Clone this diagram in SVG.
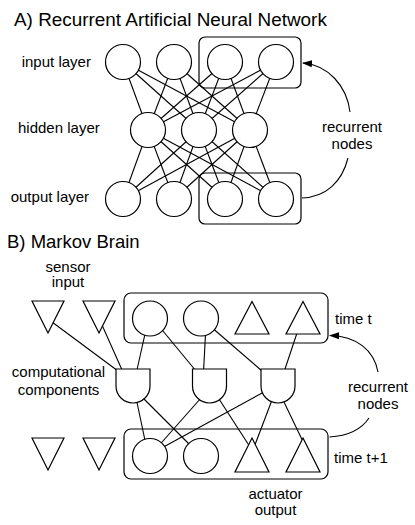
<svg xmlns="http://www.w3.org/2000/svg" width="415" height="525" viewBox="0 0 415 525">
<defs>
<style>
text{font-family:"Liberation Sans",Arial,sans-serif;fill:#000}
.t{font-size:18.5px}
.ta{font-size:18.9px}
.l{font-size:15px}
.m{text-anchor:middle}
.n{fill:#fff;stroke:#000;stroke-width:1.2}
.b{fill:none;stroke:#000;stroke-width:1.2}
#conn line{stroke:#000;stroke-width:1.1}
.cv{fill:none;stroke:#000;stroke-width:1.1}
</style>
<marker id="ah" markerWidth="10" markerHeight="8" refX="9" refY="4" orient="auto" markerUnits="userSpaceOnUse">
<path d="M0,0.5 L10,4 L0,7.5 Z" fill="#000"/>
</marker>
</defs>
<rect width="415" height="525" fill="#fff"/>

<text class="ta" x="14" y="25.5">A) Recurrent Artificial Neural Network</text>
<text class="l" x="21.7" y="67">input layer</text>
<text class="l" x="18" y="133">hidden layer</text>
<text class="l" x="10.7" y="202">output layer</text>
<text class="l m" x="352" y="132">recurrent</text>
<text class="l m" x="352" y="149">nodes</text>

<text class="t" x="7" y="248">B) Markov Brain</text>
<text class="l m" x="68" y="271.5">sensor</text>
<text class="l m" x="68" y="287">input</text>
<text class="l m" x="58.5" y="376.5">computational</text>
<text class="l m" x="58.5" y="395">components</text>
<text class="l" x="335" y="324">time t</text>
<text class="l" x="334" y="463">time t+1</text>
<text class="l m" x="378" y="392">recurrent</text>
<text class="l m" x="378" y="409">nodes</text>
<text class="l m" x="275.5" y="499">actuator</text>
<text class="l m" x="275.5" y="515">output</text>

<g id="conn">
<!-- A: input to hidden -->
<line x1="123" y1="62" x2="148" y2="130"/><line x1="123" y1="62" x2="199" y2="130"/><line x1="123" y1="62" x2="250" y2="130"/>
<line x1="174" y1="62" x2="148" y2="130"/><line x1="174" y1="62" x2="199" y2="130"/><line x1="174" y1="62" x2="250" y2="130"/>
<line x1="225" y1="62" x2="148" y2="130"/><line x1="225" y1="62" x2="199" y2="130"/><line x1="225" y1="62" x2="250" y2="130"/>
<line x1="276" y1="62" x2="148" y2="130"/><line x1="276" y1="62" x2="199" y2="130"/><line x1="276" y1="62" x2="250" y2="130"/>
<!-- A: hidden to output -->
<line x1="148" y1="130" x2="123" y2="199"/><line x1="148" y1="130" x2="174" y2="199"/><line x1="148" y1="130" x2="225" y2="199"/><line x1="148" y1="130" x2="276" y2="199"/>
<line x1="199" y1="130" x2="123" y2="199"/><line x1="199" y1="130" x2="174" y2="199"/><line x1="199" y1="130" x2="225" y2="199"/><line x1="199" y1="130" x2="276" y2="199"/>
<line x1="250" y1="130" x2="123" y2="199"/><line x1="250" y1="130" x2="174" y2="199"/><line x1="250" y1="130" x2="225" y2="199"/><line x1="250" y1="130" x2="276" y2="199"/>
<!-- B: top to gates -->
<line x1="52" y1="322" x2="118" y2="371"/>
<line x1="102" y1="325" x2="122.5" y2="371"/>
<line x1="147" y1="325" x2="136.5" y2="372"/>
<line x1="158" y1="325" x2="196" y2="371"/>
<line x1="206" y1="325" x2="203.5" y2="372"/>
<line x1="210" y1="326" x2="262" y2="371"/>
<line x1="298" y1="330" x2="284" y2="372"/>
<!-- B: gates to bottom -->
<line x1="136.5" y1="400" x2="147" y2="450"/>
<line x1="144" y1="399" x2="195" y2="450"/>
<line x1="201" y1="398" x2="155" y2="450"/>
<line x1="219" y1="399" x2="252" y2="450"/>
<line x1="264" y1="392" x2="158" y2="450"/>
<line x1="272" y1="400" x2="253" y2="450"/>
<line x1="283" y1="400" x2="308" y2="452"/>
<!-- recurrent curves -->
<path class="cv" d="M350,112 C347,86 328,65 303,63" marker-end="url(#ah)"/>
<path class="cv" d="M348,158 C342,182 326,197 302,198"/>
<path class="cv" d="M378,372 C374,350 356,336 330,335.5" marker-end="url(#ah)"/>
<path class="cv" d="M369,418 C361,430 347,436 329.5,437"/>
</g>

<g id="box-input-rec"><rect class="b" x="199" y="37" width="102" height="51" rx="6"/></g>
<g id="box-output-rec"><rect class="b" x="199" y="173" width="102" height="51" rx="6"/></g>
<g id="box-time-t"><rect class="b" x="124" y="293" width="204" height="50" rx="7"/></g>
<g id="box-time-t1"><rect class="b" x="124" y="429" width="204" height="50" rx="7"/></g>

<g id="in1"><circle class="n" cx="123" cy="62" r="17.5"/></g>
<g id="in2"><circle class="n" cx="174" cy="62" r="17.5"/></g>
<g id="in3"><circle class="n" cx="225" cy="62" r="17.5"/></g>
<g id="in4"><circle class="n" cx="276" cy="62" r="17.5"/></g>
<g id="hid1"><circle class="n" cx="148" cy="130" r="17.5"/></g>
<g id="hid2"><circle class="n" cx="199" cy="130" r="17.5"/></g>
<g id="hid3"><circle class="n" cx="250" cy="130" r="17.5"/></g>
<g id="out1"><circle class="n" cx="123" cy="199" r="17.5"/></g>
<g id="out2"><circle class="n" cx="174" cy="199" r="17.5"/></g>
<g id="out3"><circle class="n" cx="225" cy="199" r="17.5"/></g>
<g id="out4"><circle class="n" cx="276" cy="199" r="17.5"/></g>

<g id="sens1-t"><polygon class="n" points="32,301 64,301 48,333"/></g>
<g id="sens2-t"><polygon class="n" points="83,301 115,301 99,333"/></g>
<g id="hid1-t"><circle class="n" cx="150" cy="318.5" r="17.5"/></g>
<g id="hid2-t"><circle class="n" cx="201" cy="318.5" r="17.5"/></g>
<g id="act1-t"><polygon class="n" points="252,301.5 269,334 235,334"/></g>
<g id="act2-t"><polygon class="n" points="303,301.5 320,334 286,334"/></g>

<g id="gate1"><path class="n" d="M116,369 H150 V386 A17,17 0 0 1 116,386 Z"/></g>
<g id="gate2"><path class="n" d="M192.5,369 H226.5 V386 A17,17 0 0 1 192.5,386 Z"/></g>
<g id="gate3"><path class="n" d="M261,369 H295 V386 A17,17 0 0 1 261,386 Z"/></g>

<g id="sens1-t1"><polygon class="n" points="32,438 64,438 48,470"/></g>
<g id="sens2-t1"><polygon class="n" points="83,438 115,438 99,470"/></g>
<g id="hid1-t1"><circle class="n" cx="150" cy="456" r="17.5"/></g>
<g id="hid2-t1"><circle class="n" cx="201" cy="456" r="17.5"/></g>
<g id="act1-t1"><polygon class="n" points="252,438 269,472 235,472"/></g>
<g id="act2-t1"><polygon class="n" points="303,438 320,472 286,472"/></g>
</svg>
